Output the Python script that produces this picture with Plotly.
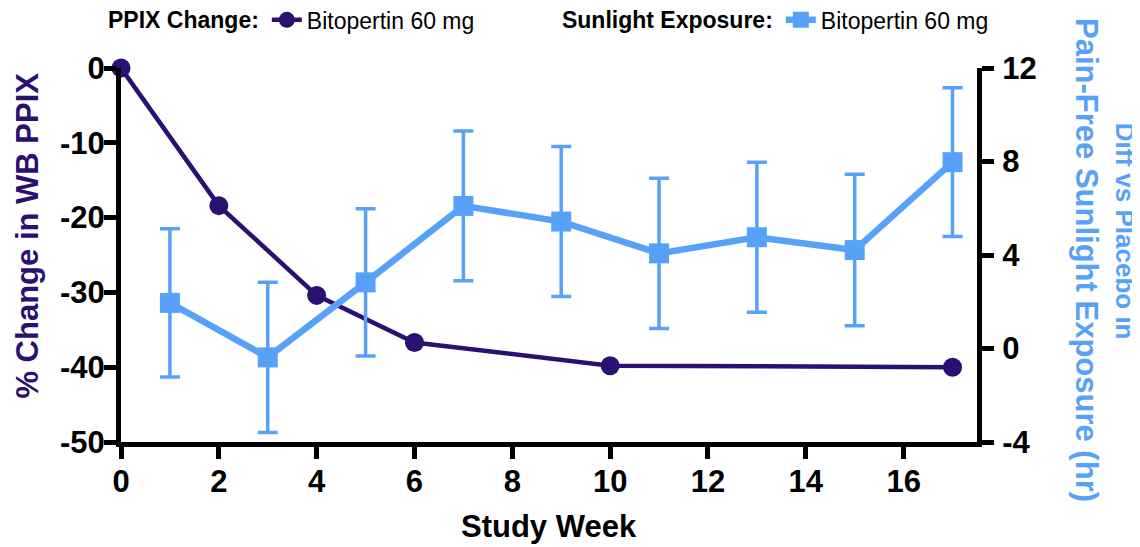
import plotly.graph_objects as go

# PPIX change data
ppix_weeks = [0, 2, 4, 6, 10, 17]
ppix_change = [0.0, -18.4, -30.4, -36.7, -39.8, -40.0]

# Sunlight exposure data
sun_weeks = [1, 3, 5, 7, 9, 11, 13, 15, 17]
sun_diff = [1.95, -0.38, 2.83, 6.1, 5.43, 4.07, 4.76, 4.21, 7.97]
sun_err = [3.17, 3.21, 3.15, 3.2, 3.21, 3.21, 3.21, 3.24, 3.18]

x_ticks = [0, 2, 4, 6, 8, 10, 12, 14, 16]
y_ticks = [0, -10, -20, -30, -40, -50]
y2_ticks = [12, 8, 4, 0, -4]

PURPLE = "#2a1070"
BLUE = "#57a2f8"
FONT = "Arial, Liberation Sans, Helvetica, sans-serif"

# the page adds an 8px body margin; size the figure to compensate
W, H = 1132, 539

fig = go.Figure()

fig.add_trace(go.Scatter(
    x=sun_weeks, y=sun_diff, yaxis="y2", mode="lines+markers",
    name="Bitopertin 60 mg", legend="legend2", showlegend=True,
    line=dict(color=BLUE, width=6.5),
    marker=dict(symbol="square", size=20, color=BLUE),
    error_y=dict(type="data", array=sun_err, visible=True, color=BLUE,
                 thickness=3.5, width=10),
    cliponaxis=False,
))

fig.add_trace(go.Scatter(
    x=ppix_weeks, y=ppix_change, mode="lines+markers",
    name="Bitopertin 60 mg", legend="legend", showlegend=True,
    line=dict(color=PURPLE, width=4.5),
    marker=dict(symbol="circle", size=19, color=PURPLE),
    cliponaxis=False,
))

axis_common = dict(
    showline=True, linewidth=5, linecolor="black", mirror=False,
    ticks="outside", ticklen=12, tickwidth=5, tickcolor="black",
    showgrid=False, zeroline=False, automargin=False,
    tickfont=dict(family=FONT, size=31, color="black", weight="bold"),
)

legend_common = dict(
    xref="container", yref="container",
    y=0.978, xanchor="left", yanchor="middle",
    orientation="h", bgcolor="rgba(0,0,0,0)", itemwidth=30,
    font=dict(family=FONT, size=23, color="black"),
)

fig.update_layout(
    width=W, height=H,
    showlegend=True,
    margin=dict(l=113, r=163, t=60, b=105, autoexpand=False),
    paper_bgcolor="white", plot_bgcolor="white",
    font=dict(family=FONT, color="black"),
    xaxis=dict(range=[0, 17.5], tickvals=x_ticks,
               ticktext=[str(v) for v in x_ticks],
               ticklabelstandoff=-4, **axis_common),
    yaxis=dict(range=[-50, 0], tickvals=y_ticks,
               ticktext=[str(v) for v in y_ticks],
               ticklabelstandoff=-7, **axis_common),
    yaxis2=dict(range=[-4, 12], tickvals=y2_ticks,
                ticktext=[str(v) for v in y2_ticks], overlaying="y",
                side="right", ticklabelstandoff=2, **axis_common),
    legend=dict(
        x=0.0866, **legend_common,
        title=dict(text="PPIX Change:", side="left",
                   font=dict(family=FONT, size=23, color="black", weight="bold")),
    ),
    legend2=dict(
        x=0.4876, **legend_common,
        title=dict(text="Sunlight Exposure:", side="left",
                   font=dict(family=FONT, size=23, color="black", weight="bold")),
    ),
    annotations=[
        dict(text="% Change in WB PPIX", xref="paper", yref="paper",
             x=-0.1086, y=0.552, xanchor="center", yanchor="middle",
             textangle=-90, showarrow=False,
             font=dict(family=FONT, size=31, color=PURPLE, weight="bold")),
        dict(text="Diff vs Placebo in", xref="paper", yref="paper",
             x=1.1725, y=0.563, xanchor="center", yanchor="middle",
             textangle=90, showarrow=False,
             font=dict(family=FONT, size=26, color=BLUE, weight="bold")),
        dict(text="Pain-Free Sunlight Exposure (hr)", xref="paper", yref="paper",
             x=1.1285, y=0.4866, xanchor="center", yanchor="middle",
             textangle=90, showarrow=False,
             font=dict(family=FONT, size=31, color=BLUE, weight="bold")),
        dict(text="Study Week", xref="paper", yref="paper",
             x=0.5, y=-0.227, xanchor="center", yanchor="middle",
             showarrow=False,
             font=dict(family=FONT, size=31, color="black", weight="bold")),
    ],
)

fig.write_html("out.html")
